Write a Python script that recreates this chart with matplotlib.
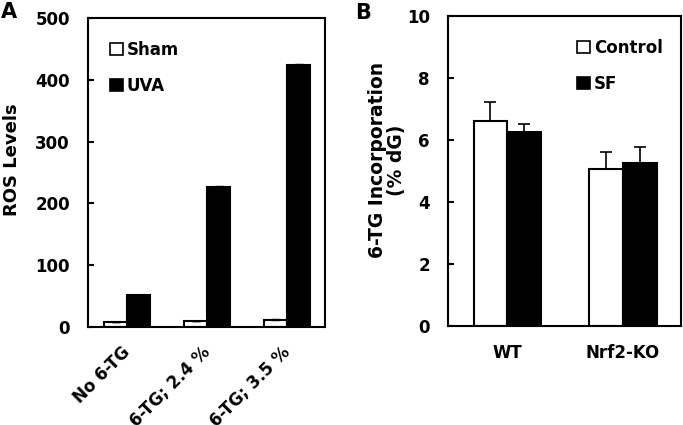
import matplotlib
matplotlib.use("Agg")
import matplotlib.pyplot as plt
import matplotlib.transforms as mtransforms
import numpy as np
from matplotlib.patches import Patch

plt.rcParams['font.family'] = ['DejaVu Sans']
plt.rcParams['font.weight'] = 'bold'

# Panel A data
a_categories = ["No 6-TG", "6-TG; 2.4 %", "6-TG; 3.5 %"]
a_sham = [8, 9, 12]
a_sham_err = [0.5, 0.5, 0.5]
a_uva = [51, 227, 424]
a_uva_err = [1.0, 1.0, 1.0]
a_yticks = [0, 100, 200, 300, 400, 500]

# Panel B data
b_categories = ["WT", "Nrf2-KO"]
b_control = [6.6, 5.05]
b_control_err = [0.63, 0.57]
b_sf = [6.26, 5.26]
b_sf_err = [0.27, 0.52]
b_yticks = [0, 2, 4, 6, 8, 10]

fig = plt.figure(figsize=(6.83, 4.25), dpi=100)
axA = fig.add_axes([88/683, 98/425, 237/683, 309/425])
axB = fig.add_axes([448/683, 99/425, 233/683, 310/425])

w = 0.29
lw = 1.5
fs = 12

def style(ax):
    for s in ax.spines.values():
        s.set_linewidth(lw)
    ax.tick_params(axis='y', direction='in', length=4, width=lw, labelsize=fs, pad=13)
    ax.tick_params(axis='x', length=0, labelsize=fs)
    for t in ax.get_yticklabels() + ax.get_xticklabels():
        t.set_fontweight('bold')

# Panel A
x = np.arange(len(a_categories))
axA.bar(x - w/2, a_sham, w, color='white', edgecolor='black', linewidth=lw,
        yerr=[np.zeros(3), a_sham_err], error_kw=dict(ecolor='black', elinewidth=1, capsize=3, capthick=1))
axA.bar(x + w/2, a_uva, w, color='black', edgecolor='black', linewidth=lw,
        yerr=[np.zeros(3), a_uva_err], error_kw=dict(ecolor='black', elinewidth=1, capsize=3, capthick=1))
axA.set_xlim(-0.49, 2.475)
axA.set_ylim(0, 500)
axA.set_yticks(a_yticks)
axA.set_xticks(x)
axA.set_xticklabels(a_categories, rotation=45, ha='right', va='center', rotation_mode='anchor')
axA.tick_params(axis='x', pad=16)
off = mtransforms.ScaledTranslation(-13/100, 0, fig.dpi_scale_trans)
for t in axA.get_xticklabels():
    t.set_transform(t.get_transform() + off)
axA.set_ylabel("ROS Levels", fontsize=13, fontweight='bold')
axA.yaxis.set_label_coords((21-88)/237, (327-160)/309)
style(axA)
hA = [Patch(facecolor='white', edgecolor='black', linewidth=1.2, label='Sham'),
      Patch(facecolor='black', edgecolor='black', linewidth=1.2, label='UVA')]
axA.legend(handles=hA, loc='upper left', bbox_to_anchor=(0.03, 0.975), frameon=False,
           handlelength=0.75, handleheight=0.75, handletextpad=0.25, labelspacing=1.1,
           prop=dict(size=fs, weight='bold'))

# Panel B
xb = np.arange(len(b_categories))
axB.bar(xb - w/2, b_control, w, color='white', edgecolor='black', linewidth=lw,
        yerr=[np.zeros(2), b_control_err], error_kw=dict(ecolor='black', elinewidth=1.2, capsize=4, capthick=1.2))
axB.bar(xb + w/2, b_sf, w, color='black', edgecolor='black', linewidth=lw,
        yerr=[np.zeros(2), b_sf_err], error_kw=dict(ecolor='black', elinewidth=1.2, capsize=4, capthick=1.2))
axB.set_xlim(-0.51, 1.5)
axB.set_ylim(0, 10)
axB.set_yticks(b_yticks)
axB.set_xticks(xb)
axB.set_xticklabels(b_categories)
axB.tick_params(axis='x', pad=13)
axB.set_ylabel("6-TG Incorporation\n(% dG)", fontsize=13.5, fontweight='bold', linespacing=1.0)
axB.yaxis.set_label_coords((406-448)/233, (326-160)/310)
style(axB)
hB = [Patch(facecolor='white', edgecolor='black', linewidth=1.2, label='Control'),
      Patch(facecolor='black', edgecolor='black', linewidth=1.2, label='SF')]
axB.legend(handles=hB, loc='upper left', bbox_to_anchor=(0.49, 0.975), frameon=False,
           handlelength=0.75, handleheight=0.75, handletextpad=0.25, labelspacing=1.1,
           prop=dict(size=fs, weight='bold'))

fig.text(1/683, 1 - 2/425, "A", fontsize=15, fontweight='bold', ha='left', va='top')
fig.text(355/683, 1 - 3/425, "B", fontsize=15, fontweight='bold', ha='left', va='top')

fig.savefig("out.png", dpi=100)
